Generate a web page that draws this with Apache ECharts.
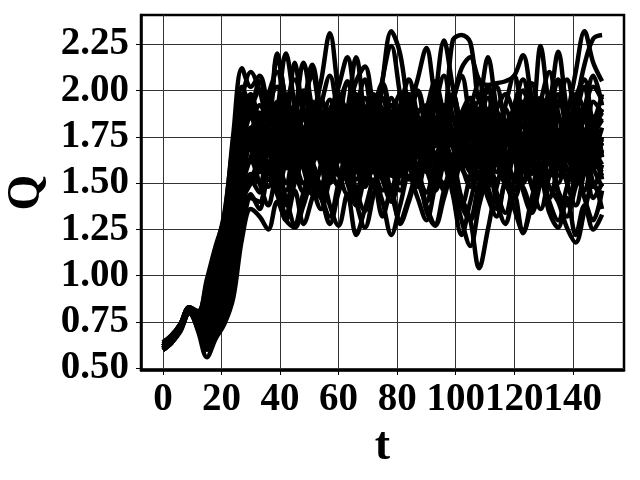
<!DOCTYPE html>
<html>
<head>
<meta charset="utf-8">
<script src="https://cdn.jsdelivr.net/npm/echarts@6/dist/echarts.min.js"></script>
<style>html,body{margin:0;padding:0;background:#fff}#c{width:640px;height:480px}</style>
</head>
<body>
<div id="c"></div>
<script>
// time samples
const tValues = [0,3,6,9,12,15,18,21,24,27,30,33,36,39,42,45,48,51,54,57,60,63,66,69,72,75,78,81,84,87,90,93,96,99,102,105,108,111,114,117,120,123,126,129,132,135,138,141,144,147,150];
const xTicks = [0,20,40,60,80,100,120,140];
const xTicksA = [0,40,80,120];
const xTicksB = [20,60,100,140];
const yTicks = [0.5,0.75,1.0,1.25,1.5,1.75,2.0,2.25];

const s1 = [0.64,0.68,0.74,0.83,0.80,0.98,1.16,1.32,1.76,2.12,2.02, 2.08,1.90,1.75,1.92,1.80,1.68,1.85,1.95,1.78,1.65, 1.82,1.98,1.74,1.60,1.78,1.92,1.70,1.58,1.80,1.88, 1.66,1.75,1.95,1.72,1.62,1.85,1.78,1.60,1.72,1.90, 1.70,1.55,1.82,1.95,1.68,1.75,1.88,1.65,1.78,1.85];
const s2 = [0.63,0.67,0.74,0.83,0.79,0.94,1.12,1.28,1.62,1.95,2.10, 2.00,1.82,2.18,1.95,1.78,1.92,2.14,1.88,1.70,1.82, 2.05,1.86,1.72,1.90,2.02,1.80,1.66,1.85,1.98,1.76, 1.64,1.82,1.95,1.78,1.68,1.88,2.00,1.74,1.62,1.80, 1.92,1.70,1.84,1.98,1.76,1.66,1.86,2.02,1.80,1.90];
const s3 = [0.62,0.66,0.73,0.82,0.78,0.85,1.00,1.16,1.50,1.80,1.95, 1.80,1.65,1.88,2.20,1.92,1.70,1.85,2.05,2.31,1.98, 1.72,1.58,1.76,1.90,1.68,1.55,1.74,1.86,1.64,1.78, 1.92,1.70,1.56,1.72,1.88,1.65,1.52,1.70,1.84,1.62, 1.75,1.90,1.68,1.56,1.74,1.86,1.64,1.72,1.58,1.68];
const s4 = [0.61,0.65,0.72,0.81,0.74,0.72,0.86,1.05,1.36,1.66,1.80, 1.68,1.55,1.78,1.92,1.74,1.60,1.82,1.70,1.56,1.76, 1.90,2.18,1.85,1.68,2.05,2.32,2.20,1.88,1.65,1.80, 1.95,1.72,1.60,1.78,1.66,1.52,1.70,1.84,1.62,1.75, 1.88,1.66,1.54,1.72,1.86,1.64,1.78,1.92,1.70,1.60];
const s5 = [0.62,0.66,0.72,0.82,0.77,0.82,0.98,1.16,1.46,1.78,1.70, 1.82,1.95,1.72,1.58,1.80,1.66,1.90,1.76,1.60,1.84, 1.70,1.92,1.78,1.64,1.82,1.96,1.74,1.60,1.78,1.90, 2.05,1.88,2.27,2.30,2.26,1.95,2.18,1.90,1.72,1.85, 1.68,1.80,1.94,1.72,1.60,1.78,1.90,1.70,1.62,1.75];
const s6 = [0.61,0.65,0.72,0.81,0.75,0.74,0.88,1.06,1.40,1.70,1.85, 1.72,1.60,1.82,1.95,1.78,1.64,1.86,1.72,1.58,1.75, 1.88,1.70,1.56,1.74,1.90,1.68,1.54,1.72,1.86,1.66, 1.78,1.92,1.70,1.58,1.76,1.88,1.65,1.52,1.70,1.84, 1.62,1.75,1.90,1.72,1.60,1.85,2.10,2.32,2.15,2.05];
const s7 = [0.62,0.66,0.72,0.82,0.76,0.66,0.76,0.95,1.22,1.50,1.70, 1.58,1.76,1.64,1.50,1.72,1.85,1.62,1.48,1.66,1.80, 1.58,1.70,1.86,1.64,1.52,1.74,1.90,1.68,1.56,1.72, 1.84,1.62,1.50,1.68,1.82,1.60,1.74,1.88,1.66,1.54, 1.72,1.86,1.64,1.78,1.60,1.76,1.92,2.14,2.28,2.30];
const s8 = [0.60,0.64,0.71,0.80,0.72,0.62,0.70,0.85,1.08,1.35,1.52, 1.45,1.62,1.50,1.38,1.56,1.70,1.52,1.42,1.60,1.74, 1.55,1.44,1.62,1.78,1.58,1.46,1.64,1.76,1.54,1.40, 1.58,1.72,1.52,1.42,1.30,1.04,1.25,1.48,1.60,1.52, 1.48,1.36,1.55,1.68,1.46,1.38,1.56,1.70,1.50,1.44];
const s9 = [0.62,0.66,0.72,0.82,0.75,0.68,0.80,0.98,1.28,1.58,1.75, 1.62,1.48,1.66,1.80,1.58,1.45,1.62,1.78,1.60,1.48, 1.66,1.82,1.62,1.50,1.70,1.86,1.64,1.52,1.68,1.80, 1.60,1.46,1.64,1.78,1.56,1.44,1.62,1.76,1.58,1.46, 1.64,1.78,1.60,1.48,1.40,1.26,1.18,1.35,1.50,1.36];
const s10 = [0.60,0.64,0.71,0.80,0.73,0.63,0.72,0.88,1.12,1.40,1.55, 1.50,1.66,1.52,1.40,1.58,1.72,1.56,1.44,1.62,1.76, 1.58,1.46,1.64,1.80,1.60,1.48,1.66,1.78,1.56,1.45, 1.62,1.74,1.50,1.30,1.16,1.38,1.55,1.68,1.50,1.42, 1.58,1.72,1.54,1.42,1.60,1.74,1.56,1.46,1.62,1.54];
const s11 = [0.61,0.65,0.71,0.81,0.70,0.56,0.66,0.74,0.88,1.20,1.36, 1.32,1.25,1.40,1.30,1.26,1.38,1.50,1.42,1.28,1.45, 1.58,1.40,1.26,1.44,1.60,1.45,1.30,1.42,1.56,1.38, 1.28,1.46,1.60,1.42,1.32,1.50,1.62,1.45,1.34,1.52, 1.64,1.48,1.36,1.54,1.66,1.50,1.38,1.56,1.68,1.52];
const s12 = [0.60,0.64,0.70,0.80,0.72,0.64,0.72,0.82,1.02,1.28,1.44, 1.36,1.52,1.44,1.30,1.46,1.28,1.42,1.56,1.38,1.27, 1.44,1.22,1.36,1.50,1.32,1.46,1.28,1.40,1.54,1.35, 1.27,1.42,1.56,1.38,1.30,1.46,1.58,1.40,1.28,1.44, 1.23,1.38,1.52,1.34,1.26,1.42,1.22,1.38,1.25,1.33];
const s13 = [0.62,0.66,0.72,0.82,0.76,0.68,0.78,0.96,1.24,1.52,1.62, 1.50,1.38,1.55,1.42,1.28,1.45,1.60,1.44,1.32,1.50, 1.64,1.46,1.35,1.52,1.40,1.22,1.38,1.54,1.42,1.30, 1.48,1.62,1.44,1.22,1.40,1.56,1.42,1.32,1.50,1.36, 1.24,1.42,1.58,1.40,1.30,1.48,1.60,1.42,1.30,1.46];
const s14 = [0.62,0.66,0.73,0.82,0.78,0.88,1.06,1.22,1.56,1.86,1.92, 1.78,1.94,1.82,1.68,1.86,2.00,1.84,1.70,1.88,2.02, 2.18,1.92,1.76,1.90,2.04,1.86,1.72,1.88,2.06,2.23, 1.96,1.80,1.94,2.08,1.84,1.70,1.86,2.02,1.82,1.72, 1.90,2.04,1.84,1.74,1.92,2.06,1.86,1.76,1.94,1.88];
const s15 = [0.63,0.67,0.74,0.83,0.81,0.92,1.10,1.30,1.68,1.98,1.88, 1.76,1.92,2.02,1.84,2.15,1.92,2.12,1.88,1.74,1.90, 1.78,1.66,1.84,1.98,1.80,1.68,1.86,1.72,1.60,1.80, 1.94,1.76,1.64,1.82,1.96,1.78,1.66,1.84,1.70,1.86, 2.00,1.88,2.24,1.95,2.21,1.90,1.76,1.92,1.80,1.72];
const s16 = [0.61,0.65,0.72,0.81,0.75,0.76,0.90,1.10,1.40,1.68,1.78, 1.88,1.72,1.60,1.78,1.92,1.74,1.62,1.80,1.95,1.76, 1.64,1.82,1.96,1.78,1.66,1.84,1.98,1.80,1.68,1.86, 2.00,1.82,1.95,2.12,2.18,2.06,2.03,2.04,2.05,2.08, 2.19,1.96,1.80,1.92,2.06,1.84,1.72,1.90,2.02,1.95];
const s17 = [0.62,0.66,0.72,0.82,0.77,0.80,0.96,1.14,1.48,1.80,1.90, 2.00,1.86,2.20,1.94,1.76,1.90,1.78,1.64,1.82,1.96, 1.74,1.62,1.80,1.94,1.76,1.64,1.82,1.96,1.78,1.66, 1.96,2.27,2.02,1.80,1.64,1.82,1.96,1.74,1.62,1.80, 1.94,1.76,1.64,1.82,1.98,1.78,1.66,1.84,1.76,1.70];
const s18 = [0.61,0.65,0.71,0.81,0.74,0.70,0.82,1.00,1.30,1.60,1.76, 1.64,1.80,1.94,1.72,1.58,1.76,1.90,1.70,1.56,1.74, 1.88,2.05,2.13,1.90,1.74,1.62,1.84,1.98,1.76,1.62, 1.80,1.92,1.72,1.58,1.76,1.90,1.70,1.56,1.74,1.88, 1.68,1.56,1.72,1.86,1.66,1.54,1.70,1.84,1.64,1.58];
const s19 = [0.62,0.66,0.72,0.82,0.76,0.70,0.80,0.98,1.30,1.60,1.72, 1.82,1.68,1.56,1.74,1.88,2.15,1.90,1.72,1.58,1.76, 1.90,1.70,1.56,1.74,2.06,2.24,1.98,1.74,1.60,1.78, 1.92,1.72,1.60,1.78,1.92,1.74,1.60,1.78,1.90,1.70, 1.58,1.76,1.90,1.70,1.58,1.76,1.92,1.74,1.66,1.72];
const s20 = [0.61,0.65,0.72,0.81,0.76,0.78,0.94,1.12,1.44,1.72,1.68, 1.56,1.70,1.84,1.66,1.52,1.68,1.82,1.64,1.50,1.66, 1.80,1.62,1.48,1.64,1.78,1.60,1.46,1.62,1.76,1.58, 1.46,1.62,1.78,1.60,1.48,1.66,1.80,1.62,1.50,1.68, 1.82,1.64,1.52,1.70,1.84,1.66,1.54,1.72,1.86,1.64];
const s21 = [0.62,0.66,0.73,0.82,0.78,0.90,1.08,1.24,1.58,1.82,1.74, 1.86,1.70,1.58,1.76,1.62,1.50,1.68,1.84,1.66,1.54, 1.72,1.86,1.68,1.56,1.74,1.88,1.70,1.58,1.76,1.64, 1.52,1.70,1.86,1.68,1.56,1.74,1.90,1.72,1.58,1.76, 1.62,1.50,1.68,1.82,1.64,1.52,1.70,1.86,1.68,1.80];
const s22 = [0.60,0.64,0.71,0.80,0.73,0.66,0.74,0.90,1.18,1.45,1.52, 1.64,1.78,1.60,1.46,1.64,1.80,1.62,1.50,1.68,1.82, 1.64,1.52,1.70,1.84,1.66,1.54,1.72,1.86,1.68,1.56, 1.74,1.88,1.70,1.58,1.76,1.62,1.50,1.68,1.82,1.64, 1.52,1.70,1.84,1.66,1.54,1.72,1.88,1.70,1.58,1.48];
const s23 = [0.64,0.68,0.74,0.83,0.80,0.96,1.14,1.34,1.72,2.02,1.92, 2.05,1.90,1.76,1.92,2.06,1.88,1.74,1.92,2.08,1.86, 1.72,1.90,2.06,1.84,1.96,1.80,1.92,2.06,1.86,1.74, 1.92,2.08,1.86,1.74,1.90,2.04,1.84,1.72,1.92,2.08, 1.86,1.76,1.94,2.10,1.88,1.76,1.96,2.06,1.84,1.98];
const s24 = [0.62,0.66,0.72,0.82,0.75,0.64,0.74,0.92,1.20,1.48,1.64, 1.74,1.58,1.46,1.62,1.76,1.58,1.44,1.60,1.74,1.56, 1.44,1.60,1.74,1.58,1.46,1.64,1.78,1.60,1.48,1.66, 1.80,1.62,1.48,1.66,1.80,1.60,1.48,1.66,1.82,1.64, 1.50,1.66,1.80,1.62,1.50,1.68,1.82,1.62,1.48,1.60];
const s25 = [0.61,0.65,0.71,0.81,0.71,0.60,0.68,0.78,0.98,1.22,1.42, 1.40,1.56,1.46,1.34,1.50,1.62,1.48,1.36,1.52,1.66, 1.50,1.38,1.54,1.68,1.52,1.40,1.56,1.70,1.52,1.40, 1.56,1.68,1.50,1.38,1.54,1.66,1.48,1.36,1.52,1.64, 1.46,1.34,1.50,1.62,1.44,1.32,1.48,1.60,1.42,1.50];
const s26 = [0.62,0.66,0.73,0.82,0.79,0.90,1.08,1.26,1.64,1.88,1.98, 1.84,1.98,2.10,1.90,1.78,1.94,2.08,1.86,1.76,1.92, 2.04,1.86,1.74,1.90,2.02,1.84,1.72,1.90,2.00,1.82, 1.70,1.86,1.98,1.80,1.70,1.88,2.02,1.84,1.74,1.92, 2.06,1.86,1.74,1.90,2.04,1.84,1.72,1.90,2.08,1.92];
const s27 = [0.61,0.65,0.72,0.81,0.76,0.75,0.90,1.08,1.38,1.66,1.74, 1.66,1.60,1.72,1.84,1.90,1.78,1.70,1.64,1.76,1.88, 1.82,1.70,1.62,1.68,1.80,1.92,1.86,1.74,1.66,1.72, 1.84,1.90,1.78,1.66,1.60,1.70,1.82,1.88,1.76,1.66, 1.72,1.84,1.92,1.80,1.68,1.62,1.74,1.86,1.80,1.70];
const s28 = [0.62,0.66,0.73,0.82,0.78,0.84,1.00,1.20,1.52,1.84,1.86, 1.92,1.80,1.70,1.64,1.74,1.86,1.94,1.84,1.72,1.62, 1.70,1.82,1.90,1.96,1.84,1.72,1.66,1.76,1.88,1.92, 1.80,1.68,1.62,1.74,1.86,1.94,1.82,1.70,1.64,1.76, 1.88,1.96,1.84,1.70,1.62,1.74,1.86,1.90,1.78,1.84];
const s29 = [0.62,0.66,0.72,0.82,0.75,0.70,0.82,1.00,1.28,1.56,1.62, 1.56,1.68,1.76,1.62,1.54,1.66,1.74,1.60,1.52,1.64, 1.72,1.58,1.50,1.62,1.70,1.56,1.50,1.64,1.74,1.60, 1.54,1.66,1.72,1.58,1.52,1.64,1.76,1.62,1.54,1.66, 1.74,1.60,1.52,1.64,1.72,1.58,1.50,1.62,1.74,1.66];
const s30 = [0.63,0.67,0.74,0.83,0.80,0.94,1.12,1.30,1.70,1.94,1.96, 1.86,1.94,1.88,1.80,1.92,1.98,1.86,1.78,1.90,1.96, 1.88,1.76,1.84,1.96,1.90,1.80,1.88,1.98,1.86,1.78, 1.90,1.84,1.76,1.88,1.96,1.86,1.78,1.90,1.98,1.88, 1.80,1.92,1.96,1.86,1.78,1.88,1.98,1.90,1.82,1.88];
const s31 = [0.60,0.64,0.71,0.80,0.73,0.65,0.72,0.86,1.10,1.40,1.50, 1.58,1.52,1.62,1.70,1.58,1.50,1.60,1.68,1.56,1.62, 1.70,1.60,1.52,1.58,1.68,1.62,1.54,1.60,1.70,1.64, 1.56,1.50,1.60,1.68,1.62,1.54,1.58,1.66,1.60,1.52, 1.58,1.66,1.60,1.54,1.62,1.70,1.62,1.56,1.60,1.56];
const s32 = [0.61,0.65,0.72,0.81,0.75,0.73,0.88,1.06,1.34,1.62,1.72, 1.80,1.74,1.66,1.72,1.82,1.76,1.68,1.74,1.84,1.78, 1.70,1.76,1.84,1.78,1.70,1.74,1.82,1.76,1.68,1.74, 1.82,1.78,1.70,1.74,1.84,1.78,1.68,1.72,1.80,1.76, 1.68,1.74,1.82,1.76,1.70,1.76,1.84,1.78,1.70,1.74];

const allSeries = [s1,s2,s3,s4,s5,s6,s7,s8,s9,s10,s11,s12,s13,s14,s15,s16,s17,s18,s19,s20,s21,s22,s23,s24,s25,s26,s27,s28,s29,s30,s31,s32];

const FONT = 'Liberation Serif';
const labelStyle = {fontFamily: FONT, fontWeight: 'bold', fontSize: 39, color: '#000'};
const chart = echarts.init(document.getElementById('c'), null, {renderer: 'canvas'});
chart.setOption({
  animation: false,
  backgroundColor: '#ffffff',
  grid: {left: 141, top: 15, right: 16, bottom: 110, show: true, borderColor: '#000', borderWidth: 2.5,
         backgroundColor: 'transparent', outerBoundsMode: 'none', containLabel: false},
  xAxis: [{
    type: 'value', min: -7.5, max: 157.5, position: 'bottom', offset: 0,
    name: 't', nameLocation: 'middle', nameGap: 50,
    nameTextStyle: {fontFamily: FONT, fontWeight: 'bold', fontSize: 46, color: '#000'},
    axisLine: {show: true, onZero: false, lineStyle: {color: '#000', width: 2.5}},
    axisTick: {show: true, inside: false, length: 5, customValues: xTicks, lineStyle: {color: '#000', width: 1}},
    axisLabel: Object.assign({customValues: xTicksA, margin: 10, hideOverlap: false, showMinLabel: true, showMaxLabel: true}, labelStyle),
    splitLine: {show: true, lineStyle: {color: '#333', width: 1}}
  }, {
    type: 'value', min: -7.5, max: 157.5, position: 'bottom', offset: 0,
    axisLine: {show: false, onZero: false},
    axisTick: {show: false},
    axisLabel: Object.assign({customValues: xTicksB, margin: 10, hideOverlap: false, showMinLabel: true, showMaxLabel: true}, labelStyle),
    splitLine: {show: false}
  }],
  yAxis: {
    type: 'value', min: 0.491, max: 2.408,
    name: 'Q', nameLocation: 'middle', nameGap: 80, nameRotate: 90,
    nameTextStyle: {fontFamily: FONT, fontWeight: 'bold', fontSize: 46, color: '#000'},
    axisLine: {show: true, onZero: false, lineStyle: {color: '#000', width: 2.5}},
    axisTick: {show: true, inside: false, length: 5, customValues: yTicks, lineStyle: {color: '#000', width: 1}},
    axisLabel: Object.assign({customValues: yTicks, margin: 12, hideOverlap: false, showMinLabel: true, showMaxLabel: true,
                formatter: v => v.toFixed(2)}, labelStyle),
    splitLine: {show: true, lineStyle: {color: '#333', width: 1}}
  },
  series: allSeries.map((s, k) => ({
    type: 'line', name: 'run' + (k + 1),
    data: s.map((q, i) => [tValues[i], q]),
    showSymbol: false, smooth: 0.35,
    lineStyle: {color: '#000', width: 4.5},
    z: 3
  }))
});
</script>
</body>
</html>
